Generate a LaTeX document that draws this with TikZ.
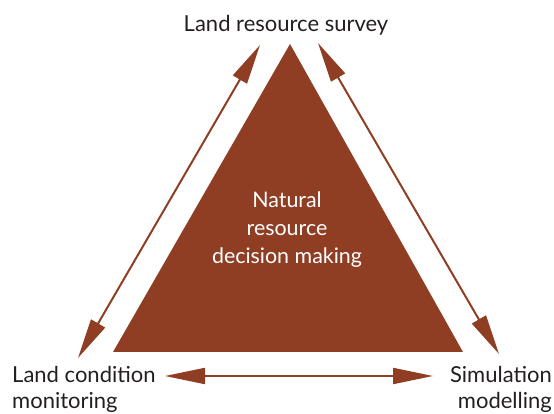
\documentclass[tikz,border=0pt]{standalone}
\usepackage{fontspec}
\setmainfont{Lato}
\usetikzlibrary{arrows.meta}
\definecolor{rust}{RGB}{144,62,35}
\definecolor{ink}{RGB}{35,31,32}
\begin{document}
\begin{tikzpicture}[x=1pt,y=1pt,
  link/.style={draw=rust,line width=2pt,{Triangle[length=40pt,width=16pt]}-{Triangle[length=40pt,width=16pt]}},
  lbl/.style={text=ink,font=\fontsize{22}{26}\selectfont,inner sep=0pt}]
\useasboundingbox (0,0) rectangle (554,414);
\fill[rust] (290,370) coordinate (apex) -- (113,62) coordinate (bl) -- (463,62) coordinate (br) -- cycle;
\node[text=white,font=\fontsize{21.4}{28}\selectfont,align=center,inner sep=0pt] (ctr) at (287,184) {Natural\\resource\\decision making};
\node[lbl,anchor=base] (top) at (286,382) {Land resource survey};
\node[lbl,anchor=base west,align=left] (lcm) at (12,5) {Land condition\\monitoring};
\node[lbl,anchor=base east,align=right] (sim) at (552,5) {Simulation\\modelling};
\coordinate (a1) at (260,369);
\coordinate (a2) at (78,56);
\coordinate (b1) at (318,371);
\coordinate (b2) at (499,60);
\coordinate (c1) at (165,38);
\coordinate (c2) at (433,38);
\draw[link] (a1) -- (a2);
\draw[link] (b1) -- (b2);
\draw[link] (c1) -- (c2);
\end{tikzpicture}
\end{document}
